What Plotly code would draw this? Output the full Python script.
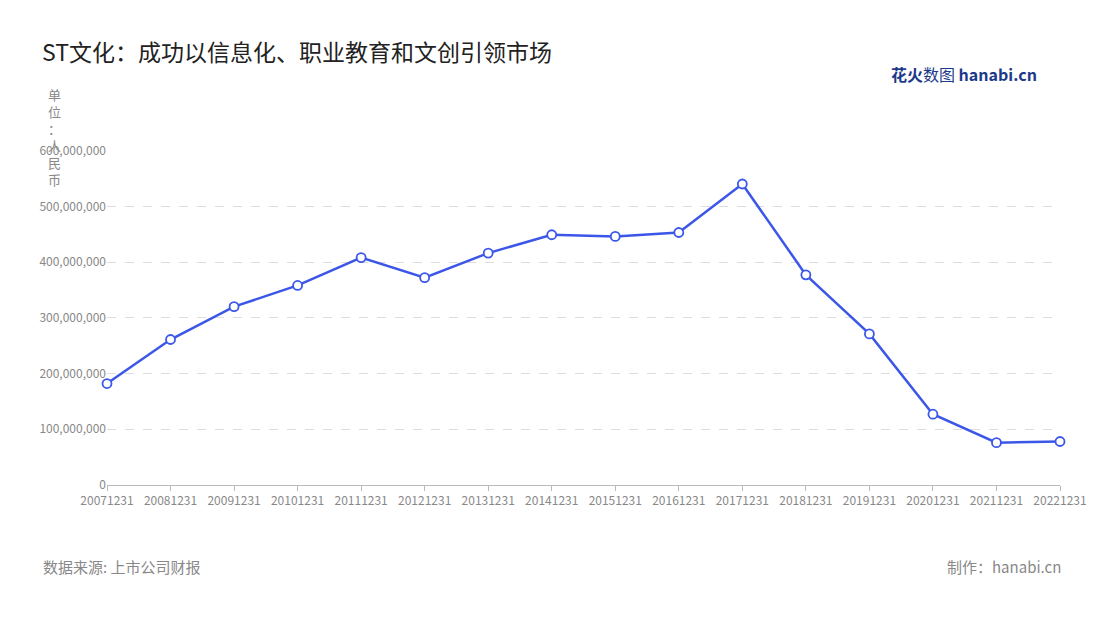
import plotly.graph_objects as go

years = ["20071231", "20081231", "20091231", "20101231", "20111231", "20121231",
         "20131231", "20141231", "20151231", "20161231", "20171231", "20181231",
         "20191231", "20201231", "20211231", "20221231"]
revenue = [182e6, 261e6, 320e6, 358e6, 408e6, 372e6, 416e6, 449e6, 446e6, 453e6,
           540e6, 377e6, 271e6, 127e6, 76e6, 78e6]

font = "Noto Sans CJK SC"
fig = go.Figure(go.Scatter(
    x=years, y=revenue, mode="lines+markers", cliponaxis=False,
    line=dict(color="#3c57e8", width=2.5),
    marker=dict(size=9, color="white", line=dict(color="#3c57e8", width=1.8)),
))

fig.update_layout(
    width=1100, height=620, plot_bgcolor="white", paper_bgcolor="white",
    margin=dict(l=99, r=48, t=142, b=143, autoexpand=False),
    font=dict(family=font, color="#888"),
    showlegend=False,
    title=dict(text="ST文化：成功以信息化、职业教育和文创引领市场", x=0.031, y=0.94,
               font=dict(size=23, color="#222", family=font)),
    xaxis=dict(type="category", showgrid=False, showline=True, linecolor="#bbb",
               ticks="outside", tickcolor="#bbb", ticklen=5, tickfont=dict(size=12, color="#888"),
               range=[0, 15], automargin=False),
    yaxis=dict(range=[0, 601e6], dtick=100e6, tickformat=",d", showgrid=True,
               gridcolor="#ddd", griddash="dash", zeroline=False, automargin=False,
               tickfont=dict(size=12, color="#888")),
)
fig.add_annotation(text="单<br>位<br>：<br>人<br>民<br>币", xref="paper", yref="paper",
                   x=-0.055, y=1.2, xanchor="center", yanchor="top", showarrow=False,
                   font=dict(size=13, color="#888"))
fig.add_annotation(text="数据来源: 上市公司财报", xref="paper", yref="paper", x=-0.069, y=-0.282,
                   xanchor="left", showarrow=False, font=dict(size=15, color="#888"))
fig.add_annotation(text="制作：hanabi.cn", xref="paper", yref="paper", x=1.003, y=-0.282,
                   xanchor="right", showarrow=False, font=dict(size=15, color="#888"))
fig.add_annotation(text="<b>花火</b>数图 <b>hanabi.cn</b>", xref="paper", yref="paper",
                   x=0.978, y=1.27, xanchor="right", showarrow=False,
                   font=dict(size=16, color="#1d3a8a"))
fig.write_html("out.html")
